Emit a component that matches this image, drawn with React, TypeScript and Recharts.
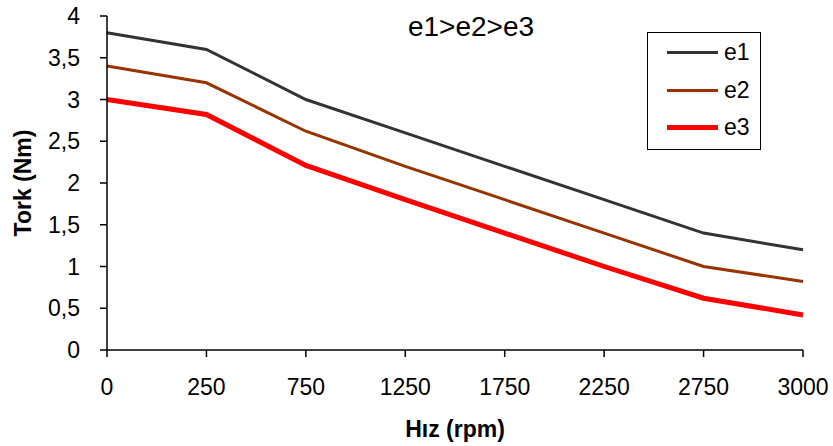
import * as React from "react";
import { LineChart, Line, XAxis, YAxis, Label } from "recharts";

// ─── Data ─────────────────────────────────────────────────
const speeds = ["0", "250", "750", "1250", "1750", "2250", "2750", "3000"];
const e1 = [3.8, 3.6, 3.0, 2.6, 2.2, 1.8, 1.4, 1.2];
const e2 = [3.4, 3.2, 2.62, 2.2, 1.8, 1.4, 1.0, 0.82];
const e3 = [3.0, 2.82, 2.21, 1.8, 1.4, 1.0, 0.62, 0.42];
const yTicks = [0, 0.5, 1, 1.5, 2, 2.5, 3, 3.5, 4];

const data = speeds.map((s, i) => ({ hiz: s, e1: e1[i], e2: e2[i], e3: e3[i] }));

const FONT = "'Liberation Sans', Arial, sans-serif";

const SERIES = [
  { key: "e1", color: "#333333", width: 3 },
  { key: "e2", color: "#993300", width: 3 },
  { key: "e3", color: "#ff0000", width: 5 },
];

// ─── Legend box ───────────────────────────────────────────
function LegendBox() {
  return (
    <div
      style={{
        position: "absolute",
        left: 647,
        top: 32,
        width: 114,
        height: 118,
        boxSizing: "border-box",
        border: "1.5px solid #000",
        background: "#fff",
        paddingTop: 1,
        fontFamily: FONT,
      }}
    >
      {SERIES.map((s) => (
        <div key={s.key} style={{ display: "flex", alignItems: "center", height: 37.5 }}>
          <span style={{ marginLeft: 19, width: 51, height: s.width, background: s.color }} />
          <span style={{ marginLeft: 6, fontSize: 23, color: "#000", lineHeight: 1 }}>{s.key}</span>
        </div>
      ))}
    </div>
  );
}

export default function App() {
  const tick = { fontSize: 23, fill: "#000", fontFamily: FONT };
  return (
    <div style={{ position: "absolute", left: 0, top: 0, width: 833, height: 446, background: "#fff" }}>
      <LineChart
        width={833}
        height={446}
        data={data}
        margin={{ top: 16, right: 30, bottom: 0, left: 20 }}
      >
        <XAxis
          dataKey="hiz"
          height={96}
          tick={tick}
          tickSize={7}
          tickMargin={22}
          axisLine={{ stroke: "#000", strokeWidth: 1.5 }}
          tickLine={{ stroke: "#000", strokeWidth: 1.5 }}
          interval={0}
        >
          <Label
            value="Hız (rpm)"
            position="insideBottom"
            offset={9}
            style={{ fontSize: 23, fontWeight: "bold", fill: "#000", fontFamily: FONT }}
          />
        </XAxis>
        <YAxis
          width={87}
          domain={[0, 4]}
          ticks={yTicks}
          interval={0}
          tick={tick}
          tickSize={7}
          tickMargin={20}
          tickFormatter={(v: number) => String(v).replace(".", ",")}
          axisLine={{ stroke: "#000", strokeWidth: 1.5 }}
          tickLine={{ stroke: "#000", strokeWidth: 1.5 }}
        >
          <Label
            value="Tork (Nm)"
            angle={-90}
            position="insideLeft"
            offset={3}
            style={{ textAnchor: "middle", fontSize: 23, fontWeight: "bold", fill: "#000", fontFamily: FONT }}
          />
        </YAxis>
        {SERIES.map((s) => (
          <Line
            key={s.key}
            type="linear"
            dataKey={s.key}
            name={s.key}
            stroke={s.color}
            strokeWidth={s.width}
            dot={false}
            activeDot={false}
            isAnimationActive={false}
          />
        ))}
      </LineChart>
      <div
        style={{
          position: "absolute",
          left: 371,
          width: 200,
          top: 10,
          textAlign: "center",
          fontFamily: FONT,
          fontSize: 28,
          lineHeight: "34px",
          color: "#000",
        }}
      >
        e1&gt;e2&gt;e3
      </div>
      <LegendBox />
    </div>
  );
}
